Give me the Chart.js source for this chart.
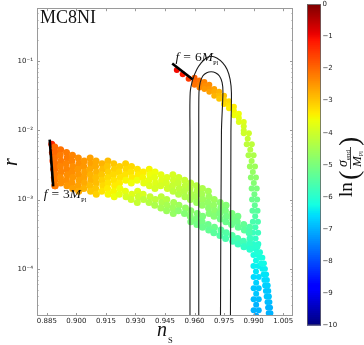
<!DOCTYPE html>
<html>
<head>
<meta charset="utf-8">
<script src="https://cdn.jsdelivr.net/npm/chart.js@4.4.1/dist/chart.umd.min.js"></script>
<style>
  html, body { margin: 0; padding: 0; background: #fff; }
  canvas { display: block; }
</style>
</head>
<body>
<canvas id="plot" width="364" height="345"></canvas>
<script>
// ---- axis ticks / ranges ----
var NS_MIN = 0.88, NS_MAX = 1.01;
var R_MIN = 2.08e-5, R_MAX = 0.584;
var NS_TICKS = [0.885, 0.900, 0.915, 0.930, 0.945, 0.960, 0.975, 0.990, 1.005];
var R_TICKS = [1e-4, 1e-3, 1e-2, 1e-1];
var R_TICK_LABELS = ['10\u207B\u2074', '10\u207B\u00B3', '10\u207B\u00B2', '10\u207B\u00B9'];
var CBAR_MIN = -10, CBAR_MAX = 0;
var CBAR_TICKS = [0, -1, -2, -3, -4, -5, -6, -7, -8, -9, -10];

// ---- scatter samples: [n_s, r, ln(sigma_end/M_pl)] ----
var bandF3 = [
  [0.8875,0.00631,-1.3],[0.8878,0.00479,-1.4],[0.8881,0.00363,-1.5],[0.8885,0.00275,-1.6],[0.8888,0.00209,-1.7],[0.8891,0.00158,-1.8],
  [0.8890,0.00575,-2.0],[0.8893,0.00479,-2.0],[0.8889,0.00398,-2.1],[0.8892,0.00331,-2.1],[0.8890,0.00275,-2.1],[0.8893,0.00229,-2.2],[0.8890,0.00191,-2.2],[0.8892,0.00158,-2.2],
  [0.8920,0.00525,-2.1],[0.8917,0.00437,-2.2],[0.8921,0.00363,-2.2],[0.8918,0.00302,-2.3],[0.8922,0.00251,-2.3],[0.8919,0.00209,-2.4],[0.8921,0.00174,-2.4],
  [0.8950,0.00479,-2.2],[0.8953,0.00398,-2.2],[0.8948,0.00331,-2.3],[0.8951,0.00275,-2.3],[0.8954,0.00229,-2.4],[0.8949,0.00191,-2.4],[0.8952,0.00158,-2.5],
  [0.8980,0.00437,-2.3],[0.8977,0.00363,-2.3],[0.8982,0.00302,-2.4],[0.8979,0.00251,-2.4],[0.8981,0.00209,-2.5],[0.8978,0.00174,-2.5],[0.8981,0.00145,-2.6],
  [0.9010,0.00398,-2.4],[0.9013,0.00331,-2.4],[0.9008,0.00275,-2.5],[0.9011,0.00229,-2.5],[0.9014,0.00191,-2.6],[0.9009,0.00158,-2.6],[0.9012,0.00132,-2.7],
  [0.9040,0.00363,-2.5],[0.9037,0.00302,-2.5],[0.9042,0.00251,-2.6],[0.9039,0.00209,-2.6],[0.9041,0.00174,-2.7],[0.9038,0.00145,-2.8],
  [0.9070,0.00398,-2.6],[0.9073,0.00331,-2.6],[0.9068,0.00275,-2.7],[0.9071,0.00229,-2.8],[0.9074,0.00191,-2.8],[0.9069,0.00158,-2.9],[0.9072,0.00132,-3.0],
  [0.9100,0.00363,-2.7],[0.9097,0.00302,-2.7],[0.9102,0.00251,-2.8],[0.9099,0.00209,-2.9],[0.9101,0.00174,-2.9],[0.9098,0.00145,-3.0],[0.9101,0.00120,-3.1],
  [0.9130,0.00331,-2.8],[0.9133,0.00275,-2.9],[0.9128,0.00229,-3.0],[0.9131,0.00191,-3.1],[0.9134,0.00158,-3.2],[0.9129,0.00132,-3.3],
  [0.9160,0.00363,-2.9],[0.9157,0.00302,-3.0],[0.9162,0.00251,-3.1],[0.9159,0.00209,-3.2],[0.9161,0.00174,-3.3],[0.9158,0.00145,-3.4],[0.9161,0.00120,-3.5],
  [0.9190,0.00331,-3.0],[0.9193,0.00275,-3.1],[0.9188,0.00229,-3.2],[0.9191,0.00191,-3.3],[0.9194,0.00158,-3.4],[0.9189,0.00132,-3.5],[0.9192,0.00110,-3.6],
  [0.9220,0.00302,-3.1],[0.9217,0.00251,-3.2],[0.9222,0.00209,-3.3],[0.9219,0.00174,-3.4],[0.9221,0.00145,-3.6],[0.9218,0.00120,-3.7],
  [0.9250,0.00331,-3.1],[0.9253,0.00275,-3.2],[0.9248,0.00229,-3.3],[0.9251,0.00191,-3.5],[0.9249,0.00132,-3.7],[0.9252,0.00110,-3.9],
  [0.9280,0.00302,-3.2],[0.9277,0.00251,-3.3],[0.9282,0.00209,-3.4],[0.9279,0.00174,-3.6],[0.9281,0.00120,-3.8],[0.9278,0.00100,-4.0],
  [0.9310,0.00275,-3.3],[0.9313,0.00229,-3.4],[0.9308,0.00191,-3.6],[0.9311,0.00132,-3.8],[0.9314,0.00110,-4.0],[0.9309,0.000912,-4.1],
  [0.9340,0.00251,-3.4],[0.9337,0.00209,-3.5],[0.9342,0.00174,-3.7],[0.9339,0.00120,-3.9],[0.9341,0.00100,-4.2],
  [0.9370,0.00275,-3.5],[0.9373,0.00229,-3.6],[0.9368,0.00191,-3.7],[0.9371,0.00158,-3.8],[0.9374,0.00110,-4.1],[0.9369,0.000912,-4.3],
  [0.9400,0.00251,-3.6],[0.9397,0.00209,-3.7],[0.9402,0.00174,-3.8],[0.9399,0.00145,-3.9],[0.9401,0.00100,-4.2],[0.9398,0.000832,-4.4],
  [0.9430,0.00229,-3.7],[0.9433,0.00191,-3.8],[0.9428,0.00158,-3.9],[0.9431,0.00110,-4.2],[0.9434,0.000912,-4.4],[0.9429,0.000759,-4.5],
  [0.9460,0.00209,-3.8],[0.9457,0.00174,-3.9],[0.9462,0.00145,-4.0],[0.9459,0.00100,-4.3],[0.9461,0.000832,-4.5],[0.9458,0.000692,-4.6],
  [0.9490,0.00229,-3.9],[0.9493,0.00191,-4.0],[0.9488,0.00158,-4.1],[0.9491,0.00132,-4.2],[0.9494,0.000912,-4.5],[0.9489,0.000759,-4.6],[0.9492,0.000631,-4.7],
  [0.9520,0.00209,-4.0],[0.9517,0.00174,-4.1],[0.9522,0.00145,-4.2],[0.9519,0.00120,-4.3],[0.9521,0.000832,-4.6],[0.9518,0.000692,-4.8],
  [0.9550,0.00191,-4.1],[0.9553,0.00158,-4.2],[0.9548,0.00132,-4.3],[0.9551,0.00110,-4.4],[0.9554,0.000759,-4.7],[0.9549,0.000631,-4.9],
  [0.9580,0.00174,-4.2],[0.9577,0.00145,-4.3],[0.9582,0.00120,-4.4],[0.9579,0.00100,-4.5],[0.9581,0.000692,-4.8],[0.9578,0.000575,-4.9],[0.9581,0.000479,-5.0],
  [0.9610,0.00158,-4.3],[0.9613,0.00132,-4.4],[0.9608,0.00110,-4.5],[0.9611,0.000912,-4.6],[0.9614,0.000631,-4.9],[0.9609,0.000525,-5.0],[0.9612,0.000437,-5.1],
  [0.9640,0.00145,-4.4],[0.9637,0.00120,-4.5],[0.9642,0.00100,-4.6],[0.9639,0.000832,-4.7],[0.9641,0.000575,-5.0],[0.9638,0.000479,-5.1],[0.9641,0.000398,-5.2],
  [0.9670,0.00132,-4.5],[0.9673,0.00110,-4.6],[0.9668,0.000912,-4.7],[0.9671,0.000759,-4.8],[0.9674,0.000631,-4.9],[0.9669,0.000437,-5.2],[0.9672,0.000363,-5.3],
  [0.9700,0.00100,-4.6],[0.9697,0.000832,-4.7],[0.9702,0.000692,-4.8],[0.9699,0.000575,-4.9],[0.9701,0.000398,-5.2],[0.9698,0.000331,-5.4],
  [0.9730,0.000912,-4.8],[0.9733,0.000759,-4.9],[0.9728,0.000631,-5.0],[0.9731,0.000525,-5.1],[0.9734,0.000363,-5.4],[0.9729,0.000302,-5.5],
  [0.9760,0.000832,-4.9],[0.9757,0.000692,-5.0],[0.9762,0.000575,-5.1],[0.9759,0.000479,-5.2],[0.9761,0.000331,-5.5],[0.9758,0.000275,-5.6],
  [0.9790,0.000631,-5.0],[0.9793,0.000525,-5.1],[0.9788,0.000437,-5.2],[0.9791,0.000302,-5.5],[0.9794,0.000251,-5.7],
  [0.9820,0.000575,-5.1],[0.9817,0.000479,-5.2],[0.9822,0.000398,-5.3],[0.9819,0.000275,-5.6],[0.9821,0.000229,-5.8],
  [0.9850,0.000437,-5.3],[0.9853,0.000363,-5.4],[0.9848,0.000251,-5.7],[0.9851,0.000209,-5.9],
  [0.9880,0.000398,-5.5],[0.9877,0.000331,-5.6],[0.9882,0.000275,-5.8],[0.9879,0.000229,-5.9],[0.9881,0.000191,-6.0]
];

var tailF3 = [
  [0.9905,0.000209,-6.0],[0.9920,0.000209,-6.0],[0.9918,0.000174,-6.1],[0.9933,0.000174,-6.1],
  [0.9930,0.000145,-6.2],[0.9945,0.000145,-6.2],[0.9938,0.000120,-6.3],[0.9953,0.000120,-6.3],
  [0.9944,0.000100,-6.4],[0.9958,0.000100,-6.4],[0.9950,0.0000832,-6.5],[0.9964,0.0000832,-6.5],
  [0.9954,0.0000692,-6.6],[0.9968,0.0000692,-6.6],[0.9958,0.0000575,-6.7],[0.9972,0.0000575,-6.7],
  [0.9962,0.0000479,-6.8],[0.9975,0.0000479,-6.8],[0.9966,0.0000398,-6.8],[0.9978,0.0000398,-6.8],
  [0.9970,0.0000331,-6.9],[0.9981,0.0000331,-6.9],[0.9973,0.0000275,-7.0],[0.9984,0.0000275,-7.0],
  [0.9976,0.0000229,-7.0],[0.9986,0.0000229,-7.0]
];

var bandF6 = [
  [0.9510,0.0750,-1.0],[0.9540,0.0646,-1.2],[0.9570,0.0556,-1.5],
  [0.9600,0.0575,-1.9],[0.9600,0.0501,-2.0],[0.9600,0.0457,-2.1],
  [0.9625,0.0525,-2.1],[0.9625,0.0457,-2.2],[0.9625,0.0417,-2.3],
  [0.9650,0.0501,-2.3],[0.9650,0.0437,-2.4],[0.9650,0.0398,-2.5],
  [0.9675,0.0457,-2.4],[0.9675,0.0398,-2.5],[0.9675,0.0363,-2.6],
  [0.9700,0.0398,-2.6],[0.9700,0.0363,-2.7],[0.9700,0.0316,-2.8],
  [0.9725,0.0363,-2.8],[0.9725,0.0316,-2.9],[0.9725,0.0288,-3.0],
  [0.9750,0.0316,-3.0],[0.9750,0.0275,-3.1],[0.9750,0.0240,-3.2],
  [0.9775,0.0263,-3.2],[0.9775,0.0229,-3.3],[0.9775,0.0209,-3.4],
  [0.9800,0.0219,-3.4],[0.9800,0.0191,-3.5],[0.9800,0.0166,-3.6],
  [0.9825,0.0174,-3.6],[0.9825,0.0151,-3.7],[0.9825,0.0132,-3.8],
  [0.9850,0.0132,-3.8],[0.9850,0.0115,-3.9],[0.9850,0.0100,-4.0],
  [0.9850,0.00912,-4.0],[0.9876,0.00912,-4.0],[0.9870,0.00759,-4.1],
  [0.9865,0.00631,-4.2],[0.9891,0.00631,-4.2],[0.9883,0.00525,-4.3],
  [0.9874,0.00437,-4.4],[0.9900,0.00437,-4.4],[0.9890,0.00363,-4.5],
  [0.9881,0.00302,-4.6],[0.9907,0.00302,-4.6],[0.9896,0.00251,-4.7],
  [0.9886,0.00209,-4.8],[0.9912,0.00209,-4.8],[0.9901,0.00174,-4.9],
  [0.9890,0.00145,-5.0],[0.9916,0.00145,-5.0],[0.9904,0.00120,-5.1],
  [0.9892,0.00100,-5.2],[0.9918,0.00100,-5.2],[0.9906,0.000832,-5.3],
  [0.9894,0.000692,-5.4],[0.9920,0.000692,-5.4],[0.9908,0.000575,-5.5],
  [0.9896,0.000479,-5.6],[0.9922,0.000479,-5.6],[0.9909,0.000398,-5.7],
  [0.9897,0.000331,-5.8],[0.9923,0.000331,-5.8],[0.9910,0.000275,-5.9],
  [0.9898,0.000229,-6.0],[0.9924,0.000229,-6.0],[0.9911,0.000191,-6.1],
  [0.9899,0.000158,-6.2],[0.9925,0.000158,-6.2],[0.9912,0.000132,-6.3],
  [0.9899,0.000110,-6.4],[0.9925,0.000110,-6.4],[0.9912,0.0000912,-6.5],
  [0.9900,0.0000759,-6.6],[0.9926,0.0000759,-6.6],[0.9913,0.0000631,-6.7],
  [0.9900,0.0000525,-6.8],[0.9926,0.0000525,-6.8],[0.9913,0.0000437,-6.8],
  [0.9900,0.0000363,-6.9],[0.9926,0.0000363,-6.9],[0.9913,0.0000302,-7.0],
  [0.9900,0.0000251,-7.0],[0.9926,0.0000251,-7.0],[0.9913,0.0000209,-7.1]
];

// boundary segments (f = 3 and f = 6 M_pl), [n_s, r]
var edgeF3 = [[0.88644, 0.00735], [0.88822, 0.00155]];
var edgeF6 = [[0.94866, 0.0925], [0.95911, 0.0546]];

// observational contours, [n_s, r]
var contourOuter = [
  [0.95769,1.5e-5],[0.95769,0.00946],[0.95779,0.0352],[0.95911,0.0546],[0.96114,0.0759],
  [0.96337,0.0946],[0.96590,0.1114],[0.96844,0.1179],[0.97128,0.1114],[0.97432,0.0946],
  [0.97655,0.0759],[0.97807,0.0546],[0.97873,0.0352],[0.97848,0.00946],[0.97823,1.5e-5]
];
var contourInner = [
  [0.96215,1.5e-5],[0.96215,0.00946],[0.96225,0.0352],[0.96286,0.0490],[0.96418,0.0611],
  [0.96621,0.0681],[0.96844,0.0703],[0.97062,0.0681],[0.97265,0.0611],[0.97402,0.0490],
  [0.97442,0.0352],[0.97366,0.00946],[0.97316,1.5e-5]
];

// text anchors in data space
var labelF3 = { ns: 0.8834, r: 0.001045, num: '3' };
var labelF6 = { ns: 0.95034, r: 0.1009, num: '6' };
var MODEL_NAME = 'MC8NI';

// matplotlib "jet"
function jet(v) {
  var t = (v - CBAR_MIN) / (CBAR_MAX - CBAR_MIN);
  t = Math.max(0, Math.min(1, t));
  function seg(p) {
    for (var i = 1; i < p.length; i++) {
      if (t <= p[i][0]) {
        var a = p[i - 1], b = p[i];
        return a[1] + (b[1] - a[1]) * (t - a[0]) / (b[0] - a[0]);
      }
    }
    return p[p.length - 1][1];
  }
  var r = seg([[0,0],[0.35,0],[0.66,1],[0.89,1],[1,0.5]]);
  var g = seg([[0,0],[0.125,0],[0.375,1],[0.64,1],[0.91,0],[1,0]]);
  var b = seg([[0,0.5],[0.11,1],[0.34,1],[0.65,0],[1,0]]);
  return 'rgb(' + Math.round(r * 255) + ',' + Math.round(g * 255) + ',' + Math.round(b * 255) + ')';
}

function xy(arr) { return arr.map(function (p) { return { x: p[0], y: p[1] }; }); }
function colours(arr) { return arr.map(function (p) { return jet(p[2]); }); }

function scatterSet(arr, radius) {
  return {
    data: xy(arr),
    pointBackgroundColor: colours(arr),
    pointBorderWidth: 0,
    pointRadius: radius,
    showLine: false,
    order: 3
  };
}
function lineSet(arr, colour, width, tension, order) {
  return {
    data: xy(arr),
    showLine: true,
    borderColor: colour,
    borderWidth: width,
    pointRadius: 0,
    tension: tension,
    fill: false,
    order: order
  };
}

var SERIF = '"Liberation Serif", "DejaVu Serif", serif';

function drawRuns(c, x, y, runs) {
  runs.forEach(function (r) {
    c.font = r.f;
    x += r.pre || 0;
    c.fillText(r.t, x, y + (r.dy || 0));
    x += c.measureText(r.t).width + (r.post || 0);
  });
  return x;
}

function fLabel(c, x, y, num) {
  drawRuns(c, x, y, [
    { t: 'f', f: 'italic 13.5px ' + SERIF },
    { t: '=', f: '13.5px ' + SERIF, pre: 4, post: 4 },
    { t: num, f: '13.5px ' + SERIF },
    { t: 'M', f: 'italic 13.5px ' + SERIF },
    { t: 'Pl', f: '6.5px ' + SERIF, dy: 4 }
  ]);
}

var decor = {
  id: 'decor',
  afterDatasetsDraw: function (chart) {
    var c = chart.ctx, a = chart.chartArea, xs = chart.scales.x, ys = chart.scales.y;
    c.save();
    c.strokeStyle = '#9a9a9a';
    c.lineWidth = 1;
    c.strokeRect(Math.round(a.left) + 0.5, Math.round(a.top) + 0.5,
                 Math.round(a.right - a.left) - 1, Math.round(a.bottom - a.top) - 1);
    c.beginPath();
    NS_TICKS.forEach(function (v) {
      var px = Math.round(xs.getPixelForValue(v)) + 0.5;
      c.moveTo(px, a.bottom); c.lineTo(px, a.bottom - 3);
      c.moveTo(px, a.top); c.lineTo(px, a.top + 3);
    });
    R_TICKS.forEach(function (v) {
      var py = Math.round(ys.getPixelForValue(v)) + 0.5;
      c.moveTo(a.left, py); c.lineTo(a.left + 3, py);
      c.moveTo(a.right, py); c.lineTo(a.right - 3, py);
    });
    for (var k = -5; k < 0; k++) {
      for (var m = 2; m < 10; m++) {
        var v = m * Math.pow(10, k);
        if (v < R_MIN || v > R_MAX) continue;
        var py = Math.round(ys.getPixelForValue(v)) + 0.5;
        c.moveTo(a.left, py); c.lineTo(a.left + 1.5, py);
        c.moveTo(a.right, py); c.lineTo(a.right - 1.5, py);
      }
    }
    c.stroke();
    c.restore();
  },
  afterDraw: function (chart) {
    var c = chart.ctx, a = chart.chartArea, xs = chart.scales.x, ys = chart.scales.y;
    c.save();
    c.fillStyle = '#111';
    c.textBaseline = 'alphabetic';
    c.textAlign = 'left';

    // model name
    c.font = '18px ' + SERIF;
    c.fillText(MODEL_NAME, a.left + 3, a.top + 14.5);

    // f labels
    fLabel(c, xs.getPixelForValue(labelF3.ns), ys.getPixelForValue(labelF3.r), labelF3.num);
    fLabel(c, xs.getPixelForValue(labelF6.ns), ys.getPixelForValue(labelF6.r), labelF6.num);

    // x axis label n_S
    var cx = (a.left + a.right) / 2;
    c.font = 'italic 20px ' + SERIF;
    var wN = c.measureText('n').width;
    c.fillText('n', cx - wN / 2 - 3, 336);
    c.font = '8.5px ' + SERIF;
    c.fillText('S', cx + wN / 2 - 2, 343);

    // y axis label r
    c.save();
    c.translate(17, (a.top + a.bottom) / 2);
    c.rotate(-Math.PI / 2);
    c.font = 'italic 20px ' + SERIF;
    c.textAlign = 'center';
    c.fillText('r', 0, 0);
    c.restore();

    // colour bar
    var bx = 307, bw = 14, bt = 4.5, bb = 325;
    var n = 160;
    for (var i = 0; i < n; i++) {
      var v = CBAR_MAX - (i + 0.5) / n * (CBAR_MAX - CBAR_MIN);
      c.fillStyle = jet(v);
      var y0 = bt + i / n * (bb - bt);
      c.fillRect(bx, y0, bw, (bb - bt) / n + 0.6);
    }
    c.strokeStyle = '#666';
    c.lineWidth = 0.8;
    c.strokeRect(bx + 0.5, bt, bw - 1, bb - bt);
    c.fillStyle = '#222';
    c.font = '7px "DejaVu Sans", sans-serif';
    c.textBaseline = 'middle';
    CBAR_TICKS.forEach(function (v) {
      var py = bt + (CBAR_MAX - v) / (CBAR_MAX - CBAR_MIN) * (bb - bt);
      c.fillText(v === 0 ? '0' : '\u2212' + Math.abs(v), bx + bw + 1.5, py);
    });

    // colour bar label ln(sigma_end / M_pl), rotated
    c.save();
    c.translate(352, 166);
    c.rotate(-Math.PI / 2);
    c.fillStyle = '#111';
    c.textBaseline = 'alphabetic';
    c.font = '19px ' + SERIF;
    c.fillText('ln', -31, 0);
    c.font = '28px ' + SERIF;
    c.fillText('(', -14, 6);
    var f0 = -3;
    c.font = 'italic 14px ' + SERIF;
    c.fillText('\u03C3', f0 + 2, -5);
    var ws = c.measureText('\u03C3').width;
    c.font = '7px ' + SERIF;
    c.fillText('end', f0 + 2 + ws, -2.5);
    c.font = 'italic 13px ' + SERIF;
    c.fillText('M', f0 + 2, 9);
    var wm = c.measureText('M').width;
    c.font = '6px ' + SERIF;
    c.fillText('Pl', f0 + 2 + wm, 11);
    c.fillRect(f0, -1.8, 22, 0.8);
    c.font = '28px ' + SERIF;
    c.fillText(')', f0 + 23, 6);
    c.restore();

    c.restore();
  }
};

new Chart(document.getElementById('plot'), {
  type: 'scatter',
  data: {
    datasets: [
      lineSet(contourOuter, '#1c1c1c', 1.1, 0.3, 0),
      lineSet(contourInner, '#1c1c1c', 1.1, 0.3, 0),
      lineSet(edgeF3, '#000', 2.6, 0, 1),
      lineSet(edgeF6, '#000', 2.6, 0, 1),
      scatterSet(bandF3, 3.5),
      scatterSet(tailF3, 2.9),
      scatterSet(bandF6, 3.0)
    ]
  },
  options: {
    responsive: false,
    animation: false,
    devicePixelRatio: 1,
    layout: { padding: { top: 5, right: 71, left: 0, bottom: 0 } },
    plugins: { legend: { display: false }, tooltip: { enabled: false } },
    scales: {
      x: {
        type: 'linear',
        min: NS_MIN,
        max: NS_MAX,
        afterBuildTicks: function (s) { s.ticks = NS_TICKS.map(function (v) { return { value: v }; }); },
        afterFit: function (s) { s.height = 29; },
        grid: { display: false, drawTicks: false },
        border: { display: false },
        ticks: {
          autoSkip: false,
          maxRotation: 0,
          padding: 1,
          color: '#222',
          font: { family: '"DejaVu Sans", sans-serif', size: 7 },
          callback: function (v) { return Number(v).toFixed(3); }
        }
      },
      y: {
        type: 'logarithmic',
        min: R_MIN,
        max: R_MAX,
        afterBuildTicks: function (s) { s.ticks = R_TICKS.map(function (v) { return { value: v }; }); },
        afterFit: function (s) { s.width = 37; },
        grid: { display: false, drawTicks: false },
        border: { display: false },
        ticks: {
          autoSkip: false,
          padding: 4,
          color: '#222',
          font: { family: '"DejaVu Sans", sans-serif', size: 7 },
          callback: function (v, i) { return R_TICK_LABELS[i]; }
        }
      }
    }
  },
  plugins: [decor]
});
</script>
</body>
</html>
